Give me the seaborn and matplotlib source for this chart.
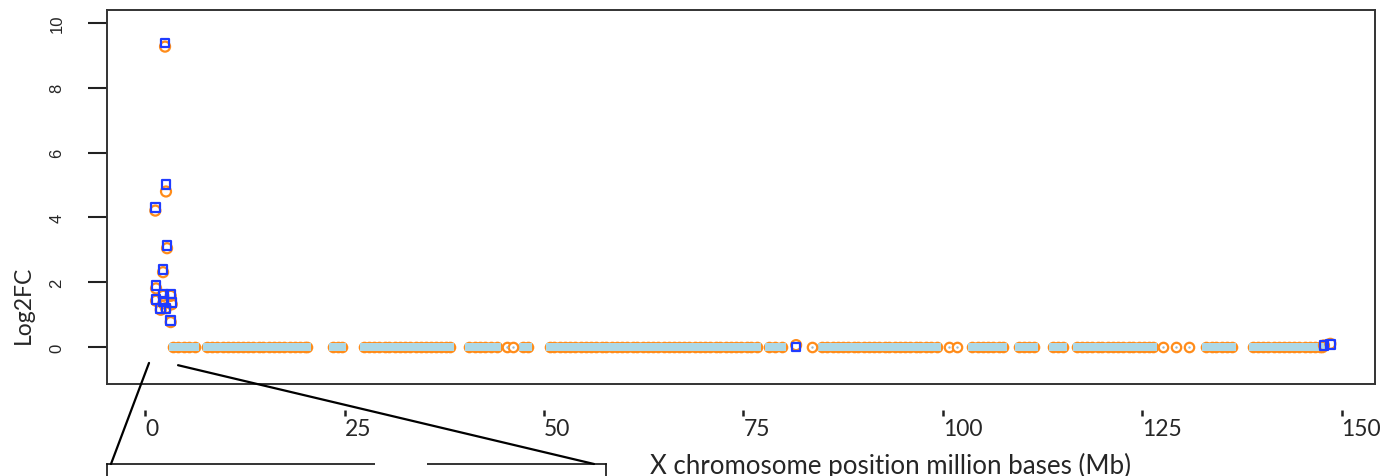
#plot log2FC sepanjang kromosom X

import matplotlib
matplotlib.use("Agg")
import matplotlib.pyplot as plt
from matplotlib.patches import Rectangle, ConnectionPatch
import seaborn as sns
import pandas as pd

#posisi gen (Mb) dengan log2FC ~ 0 (pita padat)
zero_pos = [3.5, 4.1, 4.8, 5.5, 6.2,
            7.7, 8.4, 9.0, 9.7, 10.3, 11.0, 11.6, 12.2, 12.9, 13.5, 14.2, 14.8, 15.5, 16.1,
            16.8, 17.4, 18.1, 18.7, 19.4, 20.0, 20.3,
            23.5, 24.1, 24.6,
            27.4, 28.0, 28.7, 29.3, 30.0, 30.6, 31.3, 31.9, 32.6, 33.2, 33.9, 34.5, 35.2, 35.8,
            36.5, 37.1, 37.7, 38.2,
            40.6, 41.3, 41.9, 42.6, 43.3, 44.1,
            47.4, 48.0,
            50.7, 51.3, 52.0, 52.6, 53.3, 53.9, 54.6, 55.2, 55.9, 56.5, 57.2, 57.8, 58.5, 59.1,
            59.8, 60.4, 61.1, 61.7, 62.4, 63.0, 63.7, 64.3, 65.0, 65.6, 66.3, 66.9, 67.6, 68.2,
            68.9, 69.5, 70.2, 70.8, 71.5, 72.1, 72.8, 73.4, 74.1, 74.7, 75.4, 76.0, 76.7,
            78.2, 78.9, 79.8,
            84.9, 85.5, 86.2, 86.8, 87.5, 88.1, 88.8, 89.4, 90.1, 90.7, 91.4, 92.0, 92.7, 93.3,
            94.0, 94.6, 95.3, 95.9, 96.6, 97.2, 97.9, 98.5, 99.3,
            103.7, 104.4, 105.0, 105.7, 106.3, 107.0, 107.5,
            109.6, 110.2, 110.8, 111.4,
            113.8, 114.5, 115.1,
            116.8, 117.4, 118.1, 118.7, 119.4, 120.0, 120.7, 121.3, 122.0, 122.6, 123.3, 123.9,
            124.6, 125.2, 125.9, 126.4,
            133.0, 133.7, 134.3, 135.0, 135.7, 136.3,
            138.9, 139.5, 140.2, 140.8, 141.5, 142.1, 142.8, 143.4, 144.1, 144.7, 145.4, 146.0,
            146.7, 147.3, 147.6]

#gen tunggal dengan log2FC ~ 0
lone_pos = [45.3, 46.1, 83.6, 100.8, 101.8, 127.6, 129.2, 130.9]

#gen signifikan: posisi (Mb), log2FC kotak biru, log2FC lingkaran oranye
sig_pos = [2.46, 2.58, 1.24, 2.71, 2.21, 1.33, 1.33, 2.24, 3.17, 2.24, 3.30, 1.92, 2.58,
           3.17, 81.6, 147.8, 148.6]
sig_fc_blue = [9.38, 5.01, 4.30, 3.14, 2.40, 1.91, 1.47, 1.64, 1.64, 1.40, 1.38, 1.19, 1.19,
               0.81, 0.00, 0.05, 0.08]
sig_fc_orange = [9.27, 4.80, 4.21, 3.05, 2.31, 1.81, 1.43, 1.58, 1.58, 1.35, 1.32, 1.15, 1.20,
                 0.77, 0.06, 0.05, 0.10]

xticks = [0, 25, 50, 75, 100, 125, 150]
yticks = [0, 2, 4, 6, 8, 10]

orange = '#FF8C1A'
lightblue = '#ADD8E6'
blue = '#1F3BFF'

sns.set_style("white")
plt.rcParams['font.family'] = ['Lato', 'DejaVu Sans']

W, H = 1383, 477
fig = plt.figure(figsize=(W / 100, H / 100), dpi=100)
ax = fig.add_axes([107 / W, (H - 385) / H, 1268 / W, 374 / H])

df0 = pd.DataFrame({'pos': zero_pos, 'fc': [0.0] * len(zero_pos)})
df1 = pd.DataFrame({'pos': lone_pos, 'fc': [0.0] * len(lone_pos)})
dfs = pd.DataFrame({'pos': sig_pos, 'blue': sig_fc_blue, 'orange': sig_fc_orange})

#pita oranye + isi biru muda
sns.scatterplot(data=df0, x='pos', y='fc', ax=ax, s=70, color=orange, linewidth=0, zorder=2)
sns.scatterplot(data=df0, x='pos', y='fc', ax=ax, marker='s', s=27, color=lightblue,
                linewidth=0, zorder=3)
sns.scatterplot(data=df1, x='pos', y='fc', ax=ax, s=46, facecolors='white', edgecolor=orange,
                linewidth=1.6, zorder=3)
sns.scatterplot(data=df1, x='pos', y='fc', ax=ax, s=3, color='#9fb8c4', linewidth=0, zorder=4)

#gen signifikan
sns.scatterplot(data=dfs, x='pos', y='orange', ax=ax, s=52, facecolors='none', edgecolor=orange,
                linewidth=1.6, zorder=5)
sns.scatterplot(data=dfs, x='pos', y='blue', ax=ax, marker='s', s=40, facecolors='none',
                edgecolor=blue, linewidth=1.6, zorder=6)

ax.set_xlim(-4.82, 154.2)
ax.set_ylim(-1.14, 10.40)
ax.set_xlabel('')
ax.set_ylabel('')
for sp in ax.spines.values():
    sp.set_color('#333333')
    sp.set_linewidth(1.4)

ax.set_yticks(yticks)
ax.set_yticklabels([str(v) for v in yticks], family=['Liberation Sans'], fontsize=12,
                   rotation=90, va='center')
ax.tick_params(axis='y', length=13.7, width=1.5, pad=17, color='#222222', left=True)
ax.tick_params(axis='x', bottom=False, labelbottom=False)

#sumbu x terpisah di bawah kotak
sec = ax.secondary_xaxis(-0.0695)
sec.spines['bottom'].set_visible(False)
sec.set_xticks(xticks)
sec.set_xticklabels([str(v) for v in xticks], fontsize=16.5, ha='left')
sec.tick_params(axis='x', length=4.5, width=1.8, pad=1, color='#222222', direction='out')

fig.text(890 / W, (H - 466) / H, 'X chromosome position million bases (Mb)', fontsize=18.6,
         ha='center', va='center')
fig.text(23 / W, (H - 305) / H, 'Log2FC', fontsize=16.5, rotation=90, ha='center', va='center')

#inset (terpotong di bawah)
axins = fig.add_axes([107 / W, (H - 465 - 300) / H, 499 / W, 300 / H])
axins.set_xlim(0, 1)
axins.set_ylim(-20.4, 1.0)
axins.set_xticks([])
axins.set_yticks([0])
axins.set_yticklabels(['0'], family=['Liberation Sans'], fontsize=12, rotation=90, va='center')
axins.tick_params(axis='y', length=13.7, width=1.4, pad=17, left=True)
for sp in axins.spines.values():
    sp.set_color('#111111')
    sp.set_linewidth(1.2)

fig.add_artist(Rectangle((375 / W, (H - 468) / H), 52 / W, 6 / H, transform=fig.transFigure,
                         facecolor='white', edgecolor='none', zorder=10))

for (xa, ya), xb in [((0.45, -0.49), 0.008), ((4.09, -0.56), 0.976)]:
    con = ConnectionPatch(xyA=(xa, ya), coordsA='data', axesA=ax,
                          xyB=(xb, 1.0), coordsB='axes fraction', axesB=axins,
                          color='black', linewidth=1.6, zorder=11)
    fig.add_artist(con)

fig.savefig('out.png', dpi=100)
